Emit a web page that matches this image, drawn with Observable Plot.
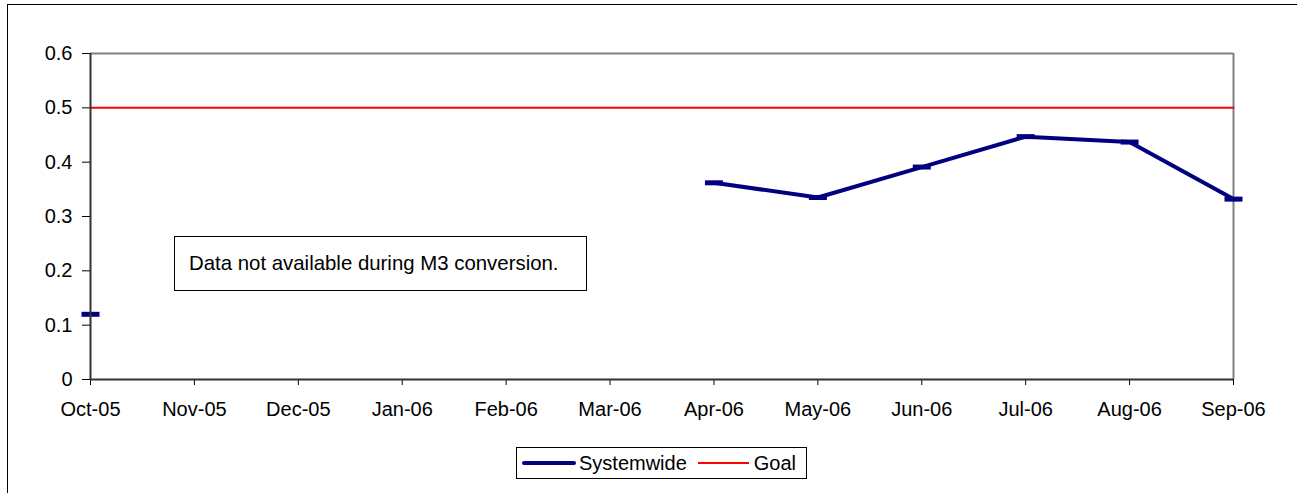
<!DOCTYPE html>
<html>
<head>
<meta charset="utf-8">
<script src="https://cdn.jsdelivr.net/npm/d3@7"></script>
<script src="https://cdn.jsdelivr.net/npm/@observablehq/plot@0.6"></script>
<style>
  body { margin: 0; background: #fff; font-family: "Liberation Sans", Arial, sans-serif; }
  #wrap { position: relative; width: 1297px; height: 493px; overflow: hidden; background: #fff; }
  #frame { position: absolute; left: 7px; top: 4px; width: 1400px; height: 600px; border: 1.5px solid #000; border-top-width: 1px; box-sizing: border-box; }
  #chart { position: absolute; left: 0; top: 0; }
  #note { position: absolute; left: 174px; top: 236px; width: 413px; height: 55px; border: 1.5px solid #000;
          box-sizing: border-box; background: #fff; font-size: 20.4px; line-height: 52px; padding-left: 14px; color: #000; white-space: nowrap; }
  #legend { position: absolute; left: 516px; top: 447px; width: 291px; height: 32px; border: 1px solid #000;
            box-sizing: border-box; display: flex; align-items: center; font-size: 20px; color: #000; background: #fff; }
  .sw { display: inline-block; }
</style>
</head>
<body>
<div id="wrap">
  <div id="frame"></div>
  <div id="chart"></div>
  <div id="note"></div>
  <div id="legend"></div>
</div>
<script>
// ---- data ----
const months = ["Oct-05","Nov-05","Dec-05","Jan-06","Feb-06","Mar-06","Apr-06","May-06","Jun-06","Jul-06","Aug-06","Sep-06"];
const systemwide = [0.12, null, null, null, null, null, 0.362, 0.335, 0.391, 0.447, 0.437, 0.332];
const goal = [0.5, 0.5, 0.5, 0.5, 0.5, 0.5, 0.5, 0.5, 0.5, 0.5, 0.5, 0.5];
const yTicks = [0, 0.1, 0.2, 0.3, 0.4, 0.5, 0.6];
const seriesNames = ["Systemwide", "Goal"];
const noteText = "Data not available during M3 conversion.";

// ---- build ----
const navy = "#000080", red = "#ff0000";
const rows = months.map((m, i) => ({i, m, v: systemwide[i]}));
const goalRows = months.map((m, i) => ({i, m, v: goal[i]}));
const dash = { draw(ctx) { ctx.rect(-9, -2.5, 18, 5); } };

const chart = Plot.plot({
  width: 1297,
  height: 440,
  marginLeft: 90,
  marginRight: 64,
  marginTop: 53,
  marginBottom: 61,
  style: { fontFamily: "'Liberation Sans', Arial, sans-serif", fontSize: "20px", background: "transparent", color: "#000", overflow: "visible" },
  x: { type: "linear", domain: [0, months.length - 1], ticks: d3.range(months.length), tickFormat: i => months[i], tickSize: 6, tickPadding: 16, label: null },
  y: { domain: [yTicks[0], yTicks[yTicks.length - 1]], ticks: yTicks, tickFormat: d => d === 0 ? "0" : d3.format(".1f")(d), tickSize: 8, tickPadding: 10, label: null },
  marks: [
    Plot.ruleY([yTicks[yTicks.length - 1]], {stroke: "#808080", strokeWidth: 2}),
    Plot.ruleX([months.length - 1], {stroke: "#808080", strokeWidth: 2}),
    Plot.line(goalRows, {x: "i", y: "v", stroke: red, strokeWidth: 2}),
    Plot.line(rows, {x: "i", y: "v", stroke: navy, strokeWidth: 4}),
    Plot.dot(rows.filter(d => d.v != null), {x: "i", y: "v", symbol: dash, fill: navy, stroke: null}),
    Plot.ruleX([0], {stroke: "#333", strokeWidth: 2}),
    Plot.ruleY([0], {stroke: "#333", strokeWidth: 2})
  ]
});
document.getElementById("chart").appendChild(chart);

document.getElementById("note").textContent = noteText;

const legend = document.getElementById("legend");
legend.innerHTML =
  `<span class="sw" style="width:54px;height:4px;background:${navy};border-radius:2px;margin-left:5px;margin-right:3px"></span>` +
  `<span>${seriesNames[0]}</span>` +
  `<span class="sw" style="width:51px;height:2px;background:${red};margin-left:11px;margin-right:5px"></span>` +
  `<span>${seriesNames[1]}</span>`;
</script>
</body>
</html>
